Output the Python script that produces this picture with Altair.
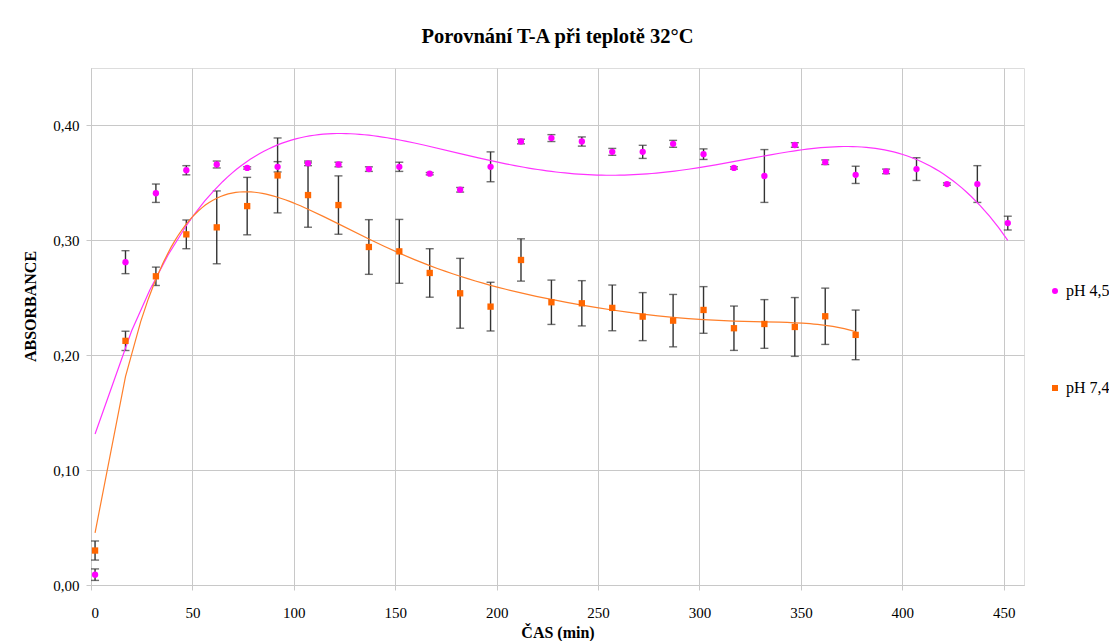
import altair as alt
import pandas as pd

SERIES = ["pH 4,5", "pH 7,4"]
COLORS = ["#FF00FF", "#FF6600"]
TREND_COLORS = ["#FF33FF", "#FF7F2A"]
SHAPES = ["circle", "square"]

TIME_45 = [2, 17, 32, 47, 62, 77, 92, 107, 122, 137, 152, 167, 182, 197, 212,
           227, 242, 257, 272, 287, 302, 317, 332, 347, 362, 377, 392, 407,
           422, 437, 452]
ABS_45 = [0.009, 0.281, 0.341, 0.361, 0.366, 0.363, 0.364, 0.367, 0.366, 0.362,
          0.364, 0.358, 0.344, 0.364, 0.386, 0.389, 0.386, 0.377, 0.377, 0.384,
          0.375, 0.363, 0.356, 0.383, 0.368, 0.357, 0.360, 0.362, 0.349, 0.349,
          0.315]
ERR_45 = [0.005, 0.010, 0.008, 0.004, 0.003, 0.001, 0.0045, 0.002, 0.002, 0.002,
          0.004, 0.001, 0.002, 0.013, 0.002, 0.003, 0.004, 0.003, 0.0057, 0.003,
          0.0046, 0.001, 0.023, 0.002, 0.002, 0.0075, 0.002, 0.0099, 0.001, 0.016,
          0.006]

TIME_74 = [2, 17, 32, 47, 62, 77, 92, 107, 122, 137, 152, 167, 182, 197, 212,
           227, 242, 257, 272, 287, 302, 317, 332, 347, 362, 377]
ABS_74 = [0.030, 0.2125, 0.2687, 0.3052, 0.3113, 0.3298, 0.3565, 0.3394, 0.3307,
          0.2942, 0.2904, 0.2716, 0.2539, 0.2423, 0.2829, 0.2461, 0.2452, 0.2412,
          0.2336, 0.2301, 0.2394, 0.2235, 0.2272, 0.2246, 0.2339, 0.2177]
ERR_74 = [0.0083, 0.0084, 0.008, 0.0125, 0.0317, 0.025, 0.0326, 0.028, 0.0254,
          0.0238, 0.0278, 0.0211, 0.0304, 0.0212, 0.0184, 0.0193, 0.0197, 0.0199,
          0.0209, 0.0228, 0.0203, 0.0193, 0.0212, 0.0256, 0.0245, 0.0216]

X_TICKS = [0, 50, 100, 150, 200, 250, 300, 350, 400, 450]
Y_TICKS = [0.0, 0.1, 0.2, 0.3, 0.4]
TREND_ORDERS = [4, 6]

df45 = pd.DataFrame({"t": TIME_45, "a": ABS_45, "e": ERR_45, "series": SERIES[0]})
df74 = pd.DataFrame({"t": TIME_74, "a": ABS_74, "e": ERR_74, "series": SERIES[1]})
df = pd.concat([df45, df74], ignore_index=True)
df["lo"] = df["a"] - df["e"]
df["hi"] = df["a"] + df["e"]

FONT = "Liberation Serif"
GRID = "#C8C8C8"

x_axis = alt.Axis(values=X_TICKS, title="ČAS (min)", grid=True, gridColor=GRID,
                  domainColor=GRID, tickColor=GRID, tickSize=5,
                  labelFontSize=15, labelFont=FONT, labelColor="#000000",
                  labelBaseline="alphabetic", labelPadding=27,
                  titleFontSize=16, titleFont=FONT, titleFontWeight="bold",
                  titleColor="#000000", titleBaseline="alphabetic", titleY=52)
y_axis = alt.Axis(values=Y_TICKS, title="ABSORBANCE", grid=True, gridColor=GRID,
                  domainColor=GRID, tickColor=GRID, tickSize=5,
                  labelFontSize=15, labelFont=FONT, labelColor="#000000",
                  labelPadding=7,
                  labelExpr="replace(format(datum.value, '.2f'), '.', ',')",
                  titleFontSize=16, titleFont=FONT, titleFontWeight="bold",
                  titleColor="#000000", titleAngle=-90, titleBaseline="bottom",
                  titleX=-53, titleY=238)

xs = alt.Scale(domain=[0, 460], nice=False, zero=False)
ys = alt.Scale(domain=[0, 0.45], nice=False)


def X(field):
    return alt.X(f"{field}:Q", scale=xs, axis=x_axis)


def Y(field):
    return alt.Y(f"{field}:Q", scale=ys, axis=y_axis)


base = alt.Chart(df)

rules = base.mark_rule(color="#333333", strokeWidth=1.4).encode(
    x=X("t"), y=Y("lo"), y2="hi:Q")
caps_lo = base.mark_tick(orient="horizontal", size=8, thickness=1.4,
                         color="#333333").encode(x=X("t"), y=Y("lo"))
caps_hi = base.mark_tick(orient="horizontal", size=8, thickness=1.4,
                         color="#333333").encode(x=X("t"), y=Y("hi"))

trends = []
for s, c, o in zip(SERIES, TREND_COLORS, TREND_ORDERS):
    trends.append(
        base.transform_filter(alt.datum.series == s)
        .transform_regression("t", "a", method="poly", order=o)
        .mark_line(color=c, strokeWidth=1.2)
        .encode(x=X("t"), y=Y("a"))
    )

legend = alt.Legend(title=None, orient="none", legendX=956, legendY=215,
                    direction="vertical", rowPadding=81, padding=0,
                    labelFontSize=16, labelFont=FONT, labelColor="#000000",
                    symbolSize=36, labelOffset=3)

points = base.mark_point(filled=True, opacity=1, size=40).encode(
    x=X("t"), y=Y("a"),
    color=alt.Color("series:N", scale=alt.Scale(domain=SERIES, range=COLORS),
                    legend=legend),
    shape=alt.Shape("series:N", scale=alt.Scale(domain=SERIES, range=SHAPES),
                    legend=legend),
)

chart = alt.layer(rules, caps_lo, caps_hi, *trends, points).properties(
    width=933, height=517,
    padding={"left": 83, "top": 60, "right": 85, "bottom": 64},
    autosize=alt.AutoSizeParams(type="none"),
    title=alt.TitleParams("Porovnání T-A při teplotě 32°C", fontSize=20.5,
                          fontWeight="bold", font=FONT, anchor="middle",
                          baseline="alphabetic", offset=5, color="#000000"),
).configure_view(stroke=None).configure(background="#FFFFFF")

chart.save("out.html", embed_options={"renderer": "svg", "actions": False})
